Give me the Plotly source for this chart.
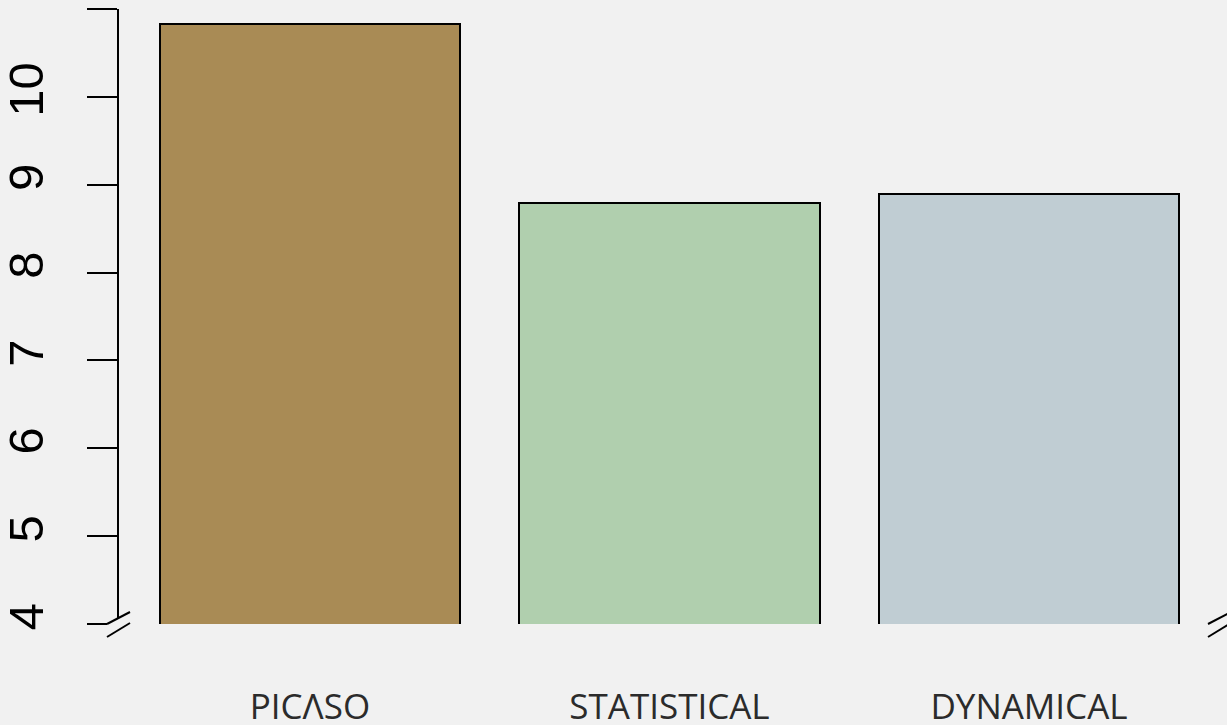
import plotly.graph_objects as go

categories = ["PIC\u039bSO", "STATISTICAL", "DYNAMICAL"]
values = [10.83, 8.79, 8.89]
bar_colors = ["#a98b55", "#b0cfae", "#c0cdd3"]
y_tickvals = [4, 5, 6, 7, 8, 9, 10, 11]
y_ticktext = ["4", "5", "6", "7", "8", "9", "10", ""]

W, H = 1227, 725
ML, MR, MT, MB = 119, 6, 9, 101
BG = "#f1f1f1"

fig = go.Figure()
fig.add_trace(go.Bar(
    x=categories, y=values,
    marker=dict(color=bar_colors, line=dict(color="black", width=2)),
    width=0.835,
))

pw = W - ML - MR
ph = H - MT - MB


def px2paper(x, y):
    return (x - ML) / pw, (H - MB - y) / ph


def brk_shapes(cx):
    # axis-break marks: bg polygon + two slanted lines (pixel offsets from axis corner)
    shapes = []
    p = [px2paper(cx - 11.5, 624), px2paper(cx + 11.5, 612),
         px2paper(cx + 11.5, 623), px2paper(cx - 11.5, 637)]
    path = "M {} {} L {} {} L {} {} L {} {} Z".format(*[v for pt in p for v in pt])
    shapes.append(dict(type="path", xref="paper", yref="paper", path=path,
                       fillcolor=BG, line=dict(width=0), layer="above"))
    for (a, b) in [(p[0], p[1]), (p[3], p[2])]:
        shapes.append(dict(type="line", xref="paper", yref="paper",
                           x0=a[0], y0=a[1], x1=b[0], y1=b[1],
                           line=dict(color="black", width=2), layer="above"))
    return shapes


shapes = brk_shapes(118.5) + brk_shapes(1219.5)

fig.update_layout(
    width=W, height=H,
    margin=dict(l=ML, r=MR, t=MT, b=MB, autoexpand=False),
    paper_bgcolor=BG, plot_bgcolor=BG,
    showlegend=False,
    bargap=0,
    shapes=shapes,
    xaxis=dict(
        range=[-0.531, 2.534],
        automargin=False,
        showline=False, showgrid=False, zeroline=False, ticks="",
        tickfont=dict(family="Open Sans", size=35, color="#2b2b2b"),
        ticklabelstandoff=59,
    ),
    yaxis=dict(
        range=[4, 11],
        automargin=False,
        tickvals=y_tickvals, ticktext=y_ticktext,
        tickangle=-90,
        ticks="outside", ticklen=30, tickwidth=2, tickcolor="black",
        showline=True, linecolor="black", linewidth=2,
        showgrid=False, zeroline=False,
        tickfont=dict(family="Liberation Sans", size=49, color="black"),
        ticklabelstandoff=24,
    ),
)

fig.write_html("out.html", config={"displayModeBar": False},
               post_script="document.body.style.margin='0';document.body.style.background='#f1f1f1';")
